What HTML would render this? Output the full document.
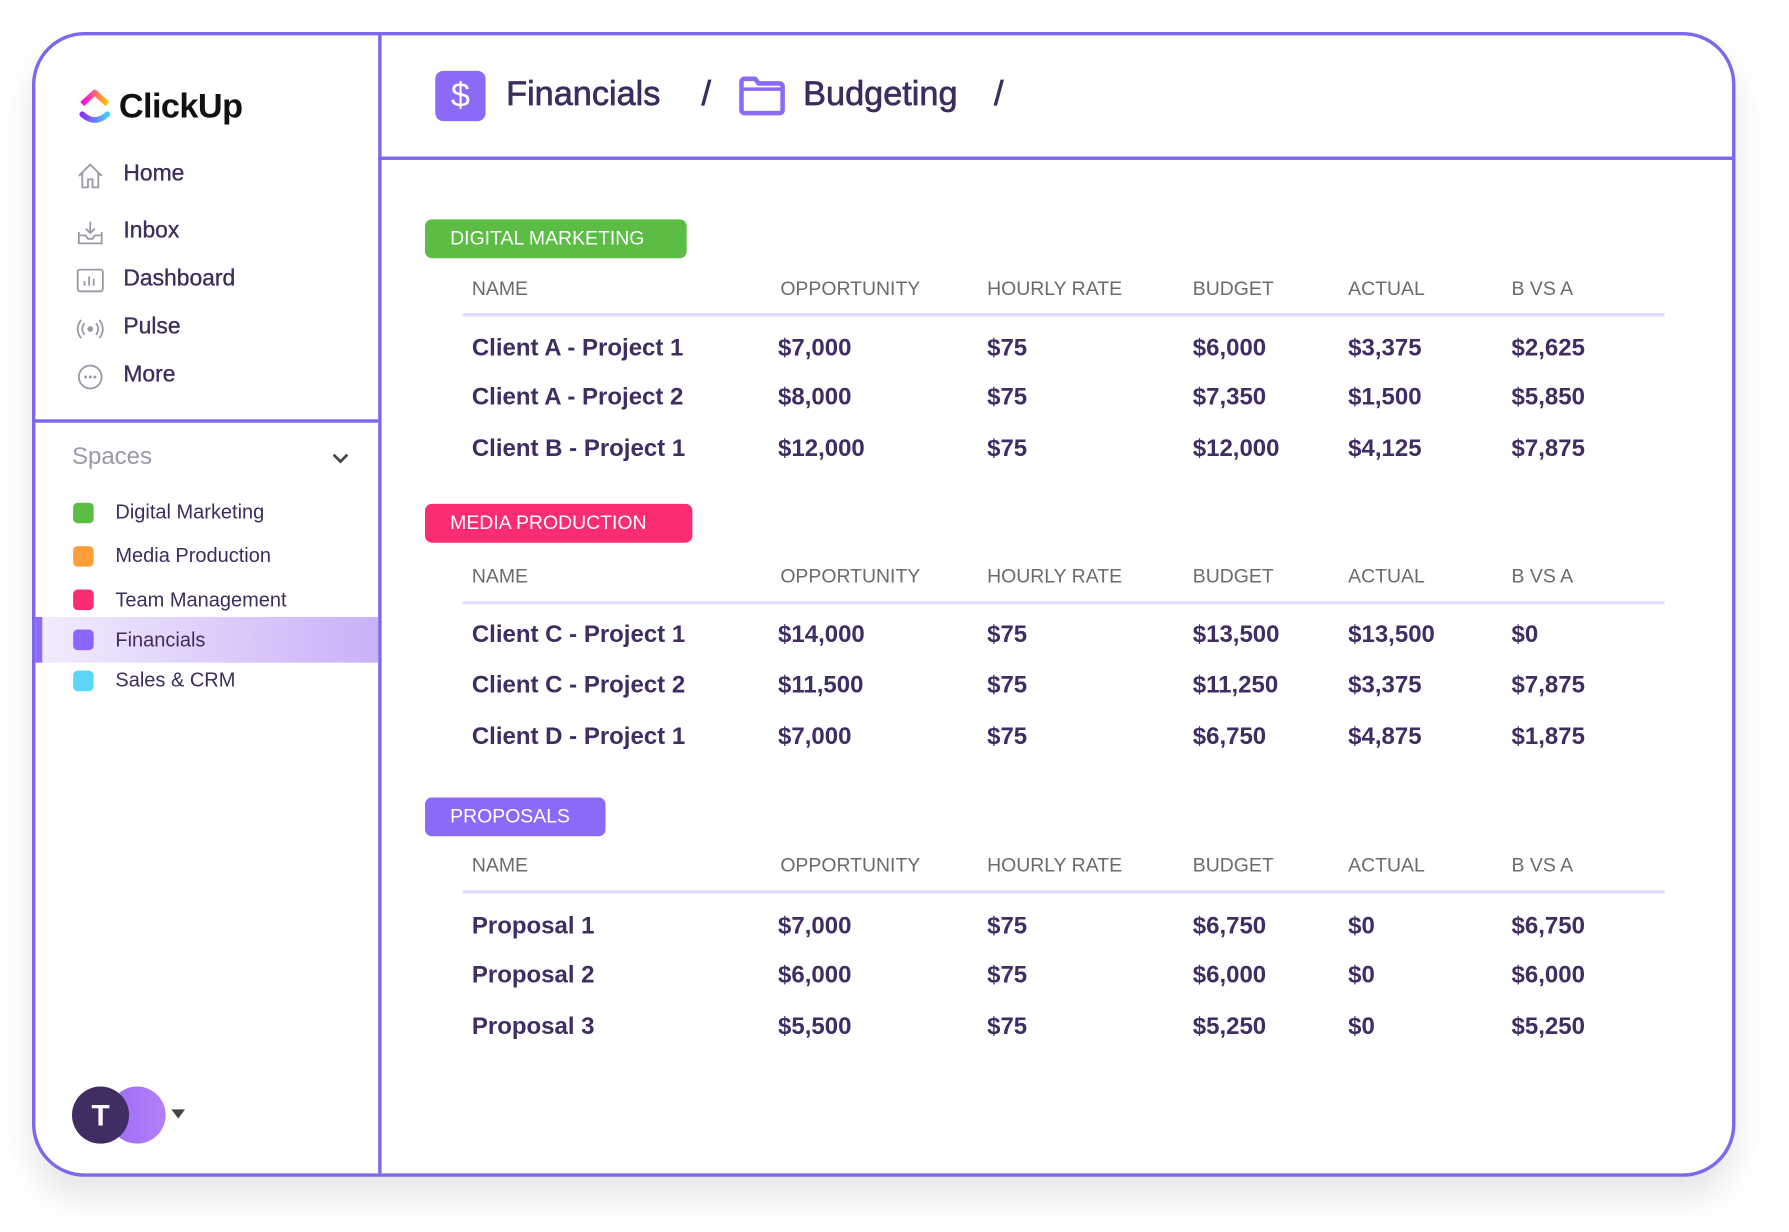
<!DOCTYPE html>
<html><head><meta charset="utf-8"><style>
html,body{margin:0;padding:0;background:#fff;width:1789px;height:1232px;overflow:hidden;font-family:"Liberation Sans",sans-serif}
#stage{position:absolute;left:0;top:0;width:1560px;height:1075px;transform:scale(1.1425);transform-origin:0 0}
.abs{position:absolute;white-space:nowrap}
.frame{position:absolute;left:28px;top:28px;width:1485px;height:996px;border:3px solid #7b68ee;border-radius:46px;box-shadow:0 18px 30px rgba(0,0,0,0.10);overflow:hidden;background:#fff}
.nav{font-size:20px;color:#3d2c5e;-webkit-text-stroke:0.3px #3d2c5e}
.sp{font-size:17.5px;color:#3d2c5e}
.sq{position:absolute;width:18px;height:18px;border-radius:4px}
.tag{position:absolute;left:372px;height:34px;border-radius:6px;color:#fff;font-size:17px;line-height:34px;padding-left:22px;box-sizing:border-box}
.th{font-size:17px;color:#6b6b6b;transform:translateY(-50%)}
.td{font-size:21px;font-weight:bold;color:#3f2d63;transform:translateY(-50%)}
.rule{position:absolute;left:405px;width:1052px;height:3px;background:#e3defa}
.bc{font-size:30px;color:#3d2c5e;-webkit-text-stroke:0.6px #3d2c5e}
</style></head><body>
<div id="stage">
<div class="frame"></div>
<div class="abs" style="left:331px;top:29px;width:3px;height:998px;background:#7b68ee"></div>
<div class="abs" style="left:331px;top:137px;width:1187px;height:3px;background:#7b68ee"></div>
<div class="abs" style="left:30px;top:367px;width:301px;height:3px;background:#7b68ee"></div>

<svg class="abs" style="left:68px;top:76px" width="30" height="36" viewBox="0 0 30 36">
<defs><linearGradient id="g1" x1="0" x2="1"><stop offset="0" stop-color="#ff02f0"/><stop offset="1" stop-color="#ffc800"/></linearGradient><linearGradient id="g2" x1="0" x2="1"><stop offset="0" stop-color="#8930fd"/><stop offset="1" stop-color="#49ccf9"/></linearGradient></defs>
<path d="M4 15 L15 5 L26 15" stroke="url(#g1)" stroke-width="5" fill="none" stroke-linejoin="round"/>
<path d="M4 24 Q15 34 26 24" stroke="url(#g2)" stroke-width="5" fill="none" stroke-linecap="round"/>
</svg>
<div class="abs" style="left:104px;top:77px;font-size:30px;font-weight:bold;color:#111;letter-spacing:-0.5px">ClickUp</div>

<svg class="abs" style="left:66px;top:141px" width="26" height="26" viewBox="0 0 26 26"><path d="M3 13 L13 3 L23 13 M6 10 V23 H11 V16 H15 V23 H20 V10" stroke="#9a9aa6" stroke-width="1.6" fill="none"/></svg>
<div class="abs nav" style="left:108px;top:141px">Home</div>
<svg class="abs" style="left:66px;top:191px" width="26" height="26" viewBox="0 0 26 26"><path d="M3 12 V22 H23 V12 M3 15 H9 L11 18 H15 L17 15 H23 M13 3 V13 M9 9 L13 13 L17 9" stroke="#9a9aa6" stroke-width="1.6" fill="none"/></svg>
<div class="abs nav" style="left:108px;top:191px">Inbox</div>
<svg class="abs" style="left:66px;top:233px" width="26" height="26" viewBox="0 0 26 26"><rect x="2" y="3" width="22" height="19" rx="2" stroke="#9a9aa6" stroke-width="1.6" fill="none"/><path d="M8 17V13 M12 17V9 M16 17V11" stroke="#9a9aa6" stroke-width="1.6"/></svg>
<div class="abs nav" style="left:108px;top:233px">Dashboard</div>
<svg class="abs" style="left:66px;top:275px" width="26" height="26" viewBox="0 0 26 26"><circle cx="13" cy="13" r="2.5" fill="#9a9aa6"/><path d="M8 8 Q4 13 8 18 M18 8 Q22 13 18 18 M5 5 Q-1 13 5 21 M21 5 Q27 13 21 21" stroke="#9a9aa6" stroke-width="1.6" fill="none"/></svg>
<div class="abs nav" style="left:108px;top:275px">Pulse</div>
<svg class="abs" style="left:66px;top:317px" width="26" height="26" viewBox="0 0 26 26"><circle cx="13" cy="13" r="10" stroke="#9a9aa6" stroke-width="1.6" fill="none"/><circle cx="9" cy="13" r="1.3" fill="#9a9aa6"/><circle cx="13" cy="13" r="1.3" fill="#9a9aa6"/><circle cx="17" cy="13" r="1.3" fill="#9a9aa6"/></svg>
<div class="abs nav" style="left:108px;top:317px">More</div>

<div class="abs" style="left:63px;top:388px;font-size:21px;color:#9a9aa6">Spaces</div>
<svg class="abs" style="left:289px;top:394px" width="18" height="14" viewBox="0 0 18 14"><path d="M3 4 L9 10 L15 4" stroke="#444" stroke-width="2.4" fill="none"/></svg>
<div class="abs" style="left:31px;top:540px;width:300px;height:40px;background:linear-gradient(90deg,#f3edfd,#c9b1f8)"></div>
<div class="abs" style="left:31px;top:540px;width:6px;height:40px;background:#8c6cf6"></div>
<div class="sq" style="left:64px;top:440px;background:#5bbd44"></div>
<div class="abs sp" style="left:101px;top:438px">Digital Marketing</div>
<div class="sq" style="left:64px;top:478px;background:#fd9e3b"></div>
<div class="abs sp" style="left:101px;top:476px">Media Production</div>
<div class="sq" style="left:64px;top:516px;background:#fb2c6f"></div>
<div class="abs sp" style="left:101px;top:515px">Team Management</div>
<div class="sq" style="left:64px;top:551px;background:#8c66fb"></div>
<div class="abs sp" style="left:101px;top:550px">Financials</div>
<div class="sq" style="left:64px;top:587px;background:#5cd6fb"></div>
<div class="abs sp" style="left:101px;top:585px">Sales &amp; CRM</div>

<div class="abs" style="left:95px;top:951px;width:50px;height:50px;border-radius:50%;background:linear-gradient(90deg,#9b6cf6,#b57ff9)"></div>
<div class="abs" style="left:63px;top:951px;width:50px;height:50px;border-radius:50%;background:#3f2d63;color:#fff;font-size:26px;font-weight:bold;line-height:50px;text-align:center">T</div>
<div class="abs" style="left:150px;top:971px;width:0;height:0;border-left:6px solid transparent;border-right:6px solid transparent;border-top:8px solid #444"></div>

<div class="abs" style="left:381px;top:62px;width:44px;height:44px;border-radius:7px;background:#8b6af7;color:#fff;font-size:30px;line-height:44px;text-align:center">$</div>
<div class="abs bc" style="left:443px;top:66px">Financials</div>
<div class="abs bc" style="left:614px;top:66px">/</div>
<svg class="abs" style="left:646px;top:66px" width="42" height="36" viewBox="0 0 42 36"><path d="M3 6 Q3 3 6 3 H15 L18 7 H36 Q39 7 39 10 V30 Q39 33 36 33 H6 Q3 33 3 30 Z" stroke="#8b6af7" stroke-width="4" fill="none" stroke-linejoin="round"/><path d="M3 12 H39" stroke="#8b6af7" stroke-width="3"/></svg>
<div class="abs bc" style="left:703px;top:66px">Budgeting</div>
<div class="abs bc" style="left:870px;top:66px">/</div>
</div>
<script>
const groups = ["DIGITAL MARKETING","MEDIA PRODUCTION","PROPOSALS"];
const groupColors = ["#5bbd44","#fb2c6f","#8b6af7"];
const groupWidths = [229,234,158];
const columns = ["NAME","OPPORTUNITY","HOURLY RATE","BUDGET","ACTUAL","B VS A"];
const names = [["Client A - Project 1","Client A - Project 2","Client B - Project 1"],["Client C - Project 1","Client C - Project 2","Client D - Project 1"],["Proposal 1","Proposal 2","Proposal 3"]];
const opportunity = [[7000,8000,12000],[14000,11500,7000],[7000,6000,5500]];
const hourly = [[75,75,75],[75,75,75],[75,75,75]];
const budget = [[6000,7350,12000],[13500,11250,6750],[6750,6000,5250]];
const actual = [[3375,1500,4125],[13500,3375,4875],[0,0,0]];
const bvsa = [[2625,5850,7875],[0,7875,1875],[6750,6000,5250]];

const colX = [413,681,864,1044,1180,1323];
const tagY = [192,441,698];
const headY = [253,505,758];
const ruleY = [274,526,779];
const rowY = [[305,348,393],[556,600,645],[811,854,899]];
const fmt = v => "$" + v.toLocaleString("en-US");
const st = document.getElementById("stage");
function mk(cls, txt, x, y){const d=document.createElement("div");d.className="abs "+cls;d.textContent=txt;d.style.left=x+"px";d.style.top=y+"px";st.appendChild(d);return d;}
groups.forEach((g,gi)=>{
  const t=document.createElement("div");t.className="tag";t.textContent=g;
  t.style.top=tagY[gi]+"px";t.style.width=groupWidths[gi]+"px";t.style.background=groupColors[gi];
  
  
  st.appendChild(t);
  columns.forEach((c,ci)=>{
    const h=mk("th",c,colX[ci]+(ci===1?2:0),headY[gi]);
    
    
  });
  const r=document.createElement("div");r.className="rule";r.style.top=ruleY[gi]+"px";
  
  
  st.appendChild(r);
  for(let i=0;i<3;i++){
    const vals=[names[gi][i],fmt(opportunity[gi][i]),fmt(hourly[gi][i]),fmt(budget[gi][i]),fmt(actual[gi][i]),fmt(bvsa[gi][i])];
    vals.forEach((v,ci)=>{
      const d=mk("td",v,colX[ci],rowY[gi][i]);
      
      
    });
  }
});
</script>
</body></html>
